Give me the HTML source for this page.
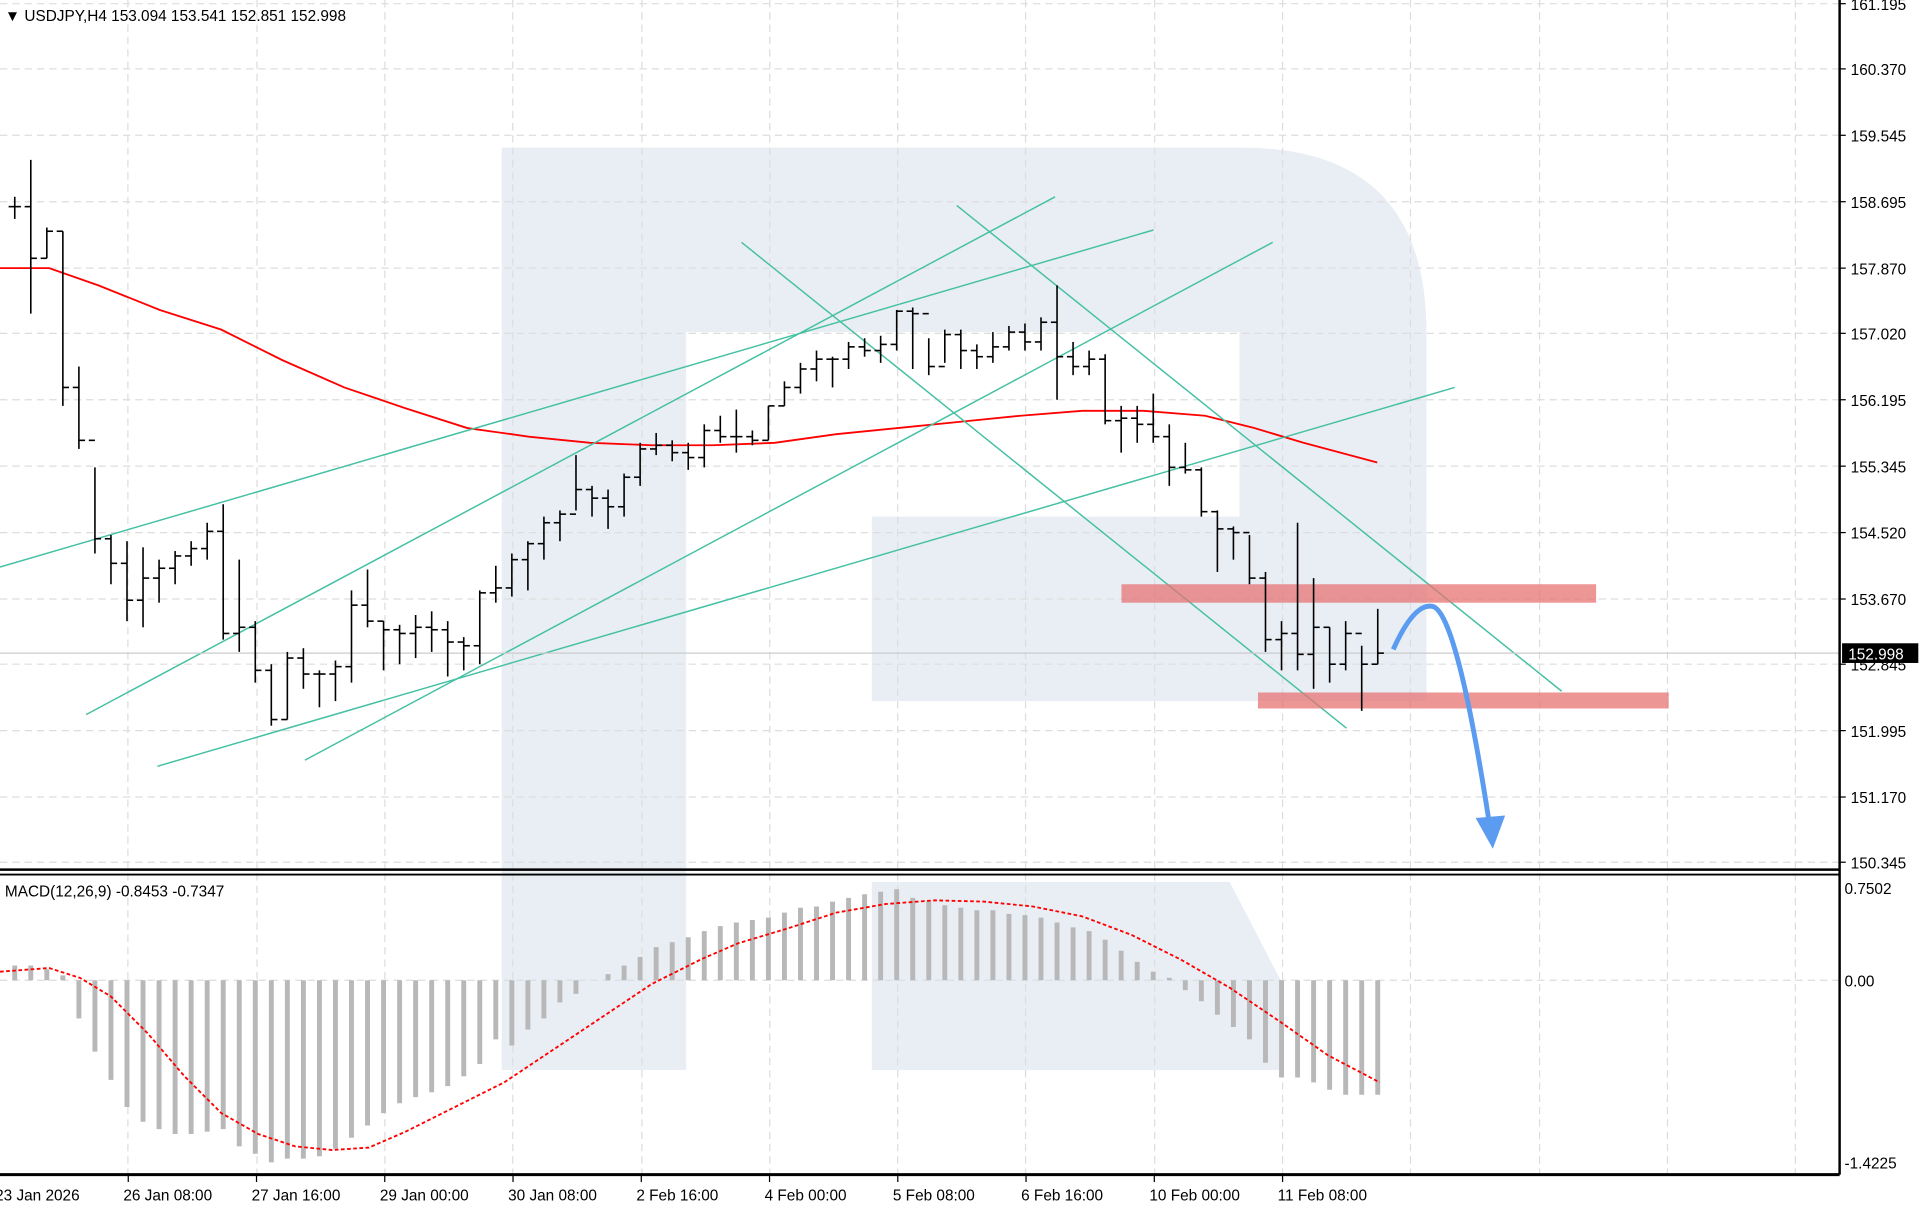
<!DOCTYPE html>
<html><head><meta charset="utf-8"><style>
html,body{margin:0;padding:0;background:#fff;}
svg{display:block;}
text{font-family:"Liberation Sans",sans-serif;font-size:12.5px;fill:#000;}
</style></head><body>
<svg id="s" width="1922" height="1214" viewBox="0 0 1563 987" preserveAspectRatio="none" xmlns="http://www.w3.org/2000/svg">
<rect width="1563" height="987" fill="#fff"/>
<g fill="#e9eef5">
<rect x="408" y="120" width="150" height="750"/>
<path d="M408 120 H1010 Q1160 120 1160 270 V430 H1008 V270 H558 V120 Z"/>
<rect x="709" y="420" width="451" height="150"/>
<path d="M709 717 H1000 L1043 800 V870 H709 Z"/>
</g>
<g id="grid" stroke="#ddd" stroke-dasharray="6,4" stroke-width="1"></g>
<g id="ma"></g>
<g id="tl" stroke="#45c0a3" stroke-width="1.2">
<line x1="0" y1="461" x2="938" y2="187"/>
<line x1="70" y1="581" x2="858" y2="160"/>
<line x1="128" y1="623" x2="1183" y2="315"/>
<line x1="248" y1="618" x2="1035" y2="197"/>
<line x1="603" y1="197" x2="1095" y2="592"/>
<line x1="778" y1="167" x2="1270" y2="562"/>
</g>
<rect x="912" y="475" width="386" height="15" fill="#e57373" opacity="0.75"/>
<rect x="1023" y="563" width="334" height="13" fill="#e57373" opacity="0.75"/>
<line x1="0" y1="531" x2="1496" y2="531" stroke="#ccc"/>
<g id="bars" stroke="#000" stroke-width="1.3"></g>
<g id="hist" stroke="#b8b8b8" stroke-width="4"></g>
<polyline id="sig" fill="none" stroke="#f00" stroke-width="1.5" stroke-dasharray="3,2"/>
<path d="M1133 528 Q1150 490 1165 493 Q1185 498 1212 675" fill="none" stroke="#5b9cf0" stroke-width="4"/>
<path d="M1200 665 L1214 690 L1224 663 Z" fill="#5b9cf0"/>
<g stroke="#000" fill="none">
<line x1="1496" y1="0" x2="1496" y2="955" stroke-width="2"/>
<line x1="0" y1="707" x2="1496" y2="707" stroke-width="2"/>
<line x1="0" y1="711" x2="1496" y2="711" stroke-width="1.5"/>
<line x1="0" y1="955" x2="1496" y2="955" stroke-width="2.5"/>
</g>
<g id="ax"></g>
<text x="4" y="17">▼ USDJPY,H4  153.094 153.541 152.851 152.998</text>
<text x="4" y="729">MACD(12,26,9) -0.8453 -0.7347</text>
<rect x="1498" y="523" width="62" height="16" fill="#000"/>
<text x="1503" y="536" style="fill:#fff">152.998</text>
</svg>
<script>
const NS="http://www.w3.org/2000/svg";
function el(p,t,a,tx){const e=document.createElementNS(NS,t);for(const k in a)e.setAttribute(k,a[k]);if(tx)e.textContent=tx;document.getElementById(p).appendChild(e);return e;}
const py=[["161.195",3],["160.370",56],["159.545",110],["158.695",164],["157.870",218],["157.020",271],["156.195",325],["155.345",379],["154.520",433],["153.670",487],["152.845",540],["151.995",594],["151.170",648],["150.345",701]];
py.forEach(([l,y])=>{el("grid","line",{x1:0,y1:y,x2:1496,y2:y});el("ax","line",{x1:1496,y1:y,x2:1501,y2:y,stroke:"#000"});el("ax","text",{x:1505,y:y+5},l);});
el("grid","line",{x1:0,y1:797,x2:1496,y2:797});
[["0.7502",722],["0.00",797],["-1.4225",945]].forEach(([l,y])=>el("ax","text",{x:1500,y:y+5},l));
for(let i=1;i<=14;i++){const x=Math.round(i*104.3);el("grid","line",{x1:x,y1:0,x2:x,y2:955});}
const tl=["23 Jan 2026","26 Jan 08:00","27 Jan 16:00","29 Jan 00:00","30 Jan 08:00","2 Feb 16:00","4 Feb 00:00","5 Feb 08:00","6 Feb 16:00","10 Feb 00:00","11 Feb 08:00"];
tl.forEach((l,i)=>{const x=i*104.3;if(i>0)el("ax","line",{x1:x,y1:955,x2:x,y2:961,stroke:"#000"});el("ax","text",{x:i==0?-4:x-4,y:976},l);});
const B=[[160,178,168],[130,255,210],[185,210,188],[188,330,315],[298,365,358],[380,450,438],[435,475,458],[440,505,488],[445,510,470],[455,490,462],[448,475,452],[440,460,446],[425,455,432],[410,520,515],[455,530,510],[505,555,545],[540,590,585],[530,585,535],[527,560,548],[545,575,548],[537,570,542],[480,555,492],[463,510,505],[505,545,512],[508,540,515],[500,535,510],[497,530,512],[505,550,522],[518,545,525],[480,540,482],[460,490,478],[450,485,455],[440,480,442],[420,455,425],[415,440,418],[370,415,398],[395,420,405],[398,430,412],[385,420,388],[360,395,365],[352,370,362],[358,375,368],[360,382,372],[345,380,350],[338,360,355],[333,368,355],[350,362,358],[330,358,330],[310,330,315],[295,320,300],[285,310,292],[290,315,292],[278,300,282],[275,290,285],[273,295,280],[252,285,253],[250,300,255],[275,305,298],[268,295,272],[268,300,285],[280,300,290],[270,295,282],[265,285,270],[263,285,278],[258,285,262],[232,325,290],[278,305,298],[285,305,292],[288,345,342],[330,368,340],[330,360,345],[320,360,355],[345,395,380],[360,385,382],[380,420,416],[415,465,430],[428,455,433],[435,475,470],[465,530,520],[505,545,515],[425,545,532],[470,560,510],[510,555,540],[505,545,515],[525,578,540],[495,540,531]];
B.forEach((b,i)=>{const x=12+i*13.04;const o=i?B[i-1][2]:b[2];el("bars","line",{x1:x,y1:b[0],x2:x,y2:b[1]});el("bars","line",{x1:x-5,y1:o,x2:x,y2:o});el("bars","line",{x1:x,y1:b[2],x2:x+5,y2:b[2]});});
const H=[785,785,788,793,828,855,878,900,912,918,922,922,920,918,932,938,945,942,942,940,934,925,915,905,897,892,888,883,875,865,845,850,837,828,815,808,797,792,785,778,770,766,762,757,753,750,748,746,742,738,737,733,730,727,725,723,730,733,736,738,740,740,743,744,746,750,754,757,764,773,782,790,795,805,814,825,835,845,864,876,876,880,886,890,890,890];
H.forEach((y,i)=>{const x=12+i*13.04;el("hist","line",{x1:x,y1:797,x2:x,y2:y});});
document.getElementById("sig").setAttribute("points","0,790 40,787 65,795 90,810 120,840 150,875 180,905 210,922 240,932 270,935 300,933 330,920 370,900 410,880 440,860 470,840 500,820 530,800 570,780 600,767 640,755 680,742 720,735 760,732 800,733 840,737 880,745 920,760 960,780 1000,803 1040,830 1080,858 1122,880");
el("ma","polyline",{fill:"none",stroke:"#f00","stroke-width":"1.5",points:"0,218 40,218 80,232 130,252 180,268 230,293 280,315 330,332 380,348 430,355 480,360 530,362 580,362 630,360 680,353 730,348 780,343 830,338 880,334 930,334 980,338 1020,348 1060,360 1120,376"});
</script>
</body></html>
